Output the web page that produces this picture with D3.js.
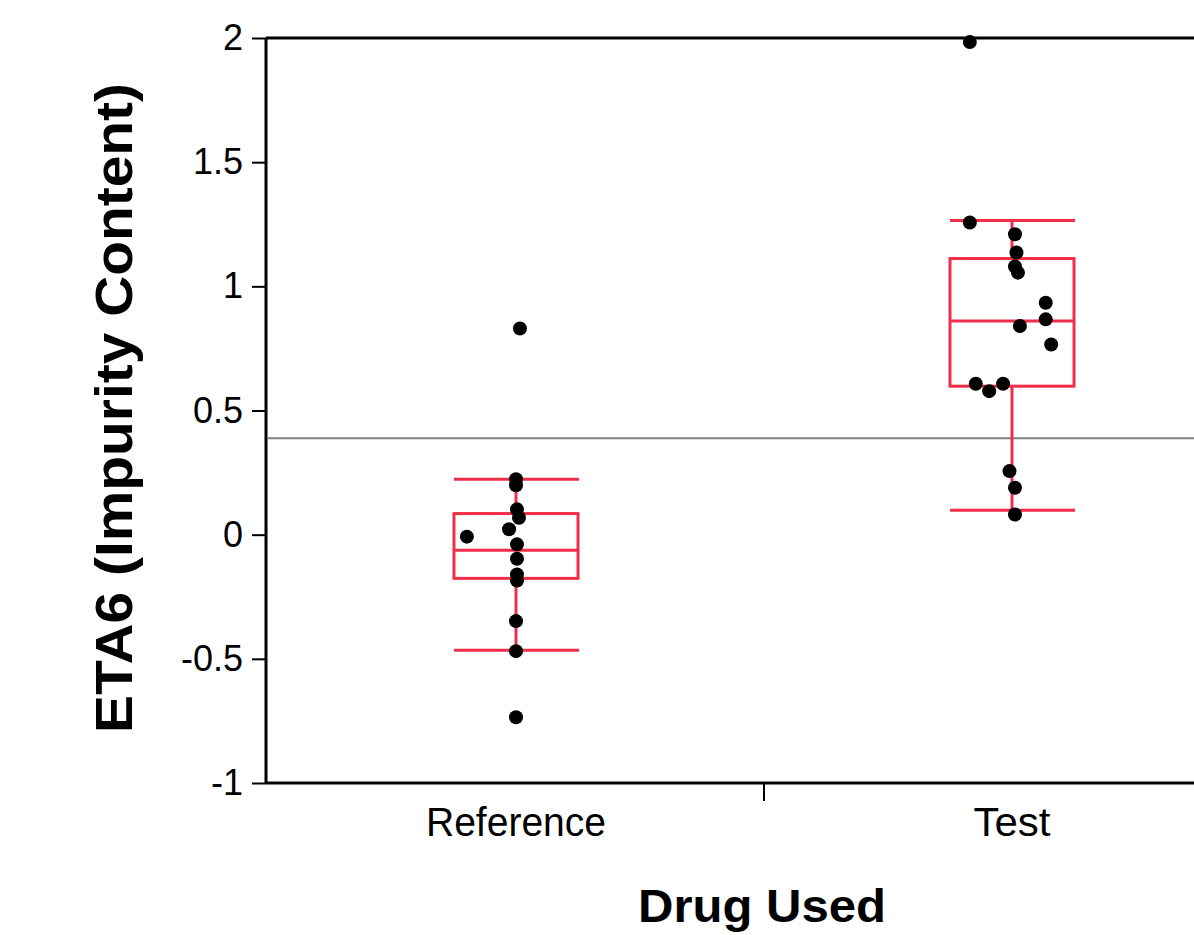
<!DOCTYPE html>
<html>
<head>
<meta charset="utf-8">
<script src="https://cdn.jsdelivr.net/npm/d3@7"></script>
<style>
  body { margin: 0; background: #fff; }
  svg { display: block; }
</style>
</head>
<body>
<svg width="1194" height="935"></svg>
<script>
// groups on the x axis
var groups = ["Reference", "Test"];

// box summaries, one entry per group
var boxQ1 = [-0.176, 0.598];
var boxMedian = [-0.063, 0.860];
var boxQ3 = [0.085, 1.112];
var whiskerLow = [-0.465, 0.098];
var whiskerHigh = [0.223, 1.265];

// grand mean line
var grandMean = 0.388;

// observations (jitter is the horizontal offset, as a share of the band)
var refValues = [0.830, 0.223, 0.199, 0.102, 0.068, 0.022, -0.008, -0.039, -0.097, -0.160, -0.185, -0.348, -0.469, -0.735];
var refJitter = [0.008, 0, 0, 0.002, 0.006, -0.014, -0.099, 0.002, 0.002, 0.002, 0.002, 0, 0, 0];
var testValues = [1.984, 1.257, 1.210, 1.136, 1.080, 1.055, 0.934, 0.867, 0.840, 0.766, 0.608, 0.578, 0.608, 0.256, 0.189, 0.081];
var testJitter = [-0.085, -0.085, 0.006, 0.009, 0.006, 0.012, 0.068, 0.068, 0.016, 0.079, -0.073, -0.046, -0.018, -0.005, 0.006, 0.006];

var yTicks = [-1, -0.5, 0, 0.5, 1, 1.5, 2];

var svg = d3.select("svg");
var red = "#f02e4a";

var y = d3.scaleLinear().domain([-1, 2]).range([783, 38]);
var x = d3.scaleBand().domain(groups).range([268, 1260]);
var bw = x.bandwidth();
var cx = function (g) { return x(g) + bw / 2; };

// frame: top line and bottom axis
svg.append("line").attr("x1", 266).attr("x2", 1194).attr("y1", y(2)).attr("y2", y(2))
  .attr("stroke", "#000").attr("stroke-width", 3);
svg.append("line").attr("x1", 266).attr("x2", 1194).attr("y1", y(-1)).attr("y2", y(-1))
  .attr("stroke", "#000").attr("stroke-width", 3);

// middle tick between the two groups
svg.append("line").attr("x1", x("Test")).attr("x2", x("Test"))
  .attr("y1", y(-1)).attr("y2", y(-1) + 18)
  .attr("stroke", "#000").attr("stroke-width", 2);

// y axis
var yAxis = d3.axisLeft(y).tickValues(yTicks).tickSize(14).tickPadding(9)
  .tickFormat(function (d) { return String(d); });
var ya = svg.append("g").attr("transform", "translate(266,0)").call(yAxis);
ya.select(".domain").attr("stroke-width", 3).attr("d", "M0," + y(2) + "V" + y(-1));
ya.selectAll(".tick line").attr("stroke-width", 2);
ya.selectAll(".tick text").attr("font-family", "Liberation Sans, Arial, sans-serif")
  .attr("font-size", 36).attr("fill", "#000");

// grand mean
svg.append("line").attr("x1", 267).attr("x2", 1194)
  .attr("y1", y(grandMean)).attr("y2", y(grandMean))
  .attr("stroke", "#808080").attr("stroke-width", 2);

// boxes
var boxData = groups.map(function (g, i) {
  return { g: g, q1: boxQ1[i], med: boxMedian[i], q3: boxQ3[i], lo: whiskerLow[i], hi: whiskerHigh[i] };
});
var half = bw * 0.125;
var bx = svg.selectAll(".box").data(boxData).enter().append("g").attr("class", "box")
  .attr("stroke", red).attr("stroke-width", 3).attr("fill", "none");
bx.append("line").attr("x1", function (d) { return cx(d.g); }).attr("x2", function (d) { return cx(d.g); })
  .attr("y1", function (d) { return y(d.hi); }).attr("y2", function (d) { return y(d.q3); });
bx.append("line").attr("x1", function (d) { return cx(d.g); }).attr("x2", function (d) { return cx(d.g); })
  .attr("y1", function (d) { return y(d.q1); }).attr("y2", function (d) { return y(d.lo); });
bx.append("rect").attr("x", function (d) { return cx(d.g) - half; }).attr("width", half * 2)
  .attr("y", function (d) { return y(d.q3); }).attr("height", function (d) { return y(d.q1) - y(d.q3); });
["med", "hi", "lo"].forEach(function (k) {
  bx.append("line").attr("x1", function (d) { return cx(d.g) - half; })
    .attr("x2", function (d) { return cx(d.g) + half + (k === "med" ? 0 : 1); })
    .attr("y1", function (d) { return y(d[k]); }).attr("y2", function (d) { return y(d[k]); });
});

// points
var pts = [];
refValues.forEach(function (v, i) { pts.push({ g: "Reference", v: v, j: refJitter[i] }); });
testValues.forEach(function (v, i) { pts.push({ g: "Test", v: v, j: testJitter[i] }); });
svg.selectAll(".pt").data(pts).enter().append("circle").attr("class", "pt")
  .attr("cx", function (d) { return cx(d.g) + d.j * bw; })
  .attr("cy", function (d) { return y(d.v); })
  .attr("r", 7).attr("fill", "#000");

// category labels
var catWidth = { Reference: 180, Test: 77 };
svg.selectAll(".cat").data(groups).enter().append("text").attr("class", "cat")
  .attr("x", function (d) { return cx(d); }).attr("y", 836)
  .attr("text-anchor", "middle").attr("font-family", "Liberation Sans, Arial, sans-serif")
  .attr("font-size", 40).attr("textLength", function (d) { return catWidth[d]; })
  .attr("lengthAdjust", "spacingAndGlyphs").text(function (d) { return d; });

// axis titles
svg.append("text").attr("transform", "translate(132,408) rotate(-90)")
  .attr("text-anchor", "middle").attr("font-family", "Liberation Sans, Arial, sans-serif")
  .attr("font-weight", "bold").attr("font-size", 51)
  .attr("textLength", 650).attr("lengthAdjust", "spacingAndGlyphs")
  .text("ETA6 (Impurity Content)");
svg.append("text").attr("x", 762).attr("y", 922)
  .attr("text-anchor", "middle").attr("font-family", "Liberation Sans, Arial, sans-serif")
  .attr("font-weight", "bold").attr("font-size", 46)
  .attr("textLength", 248).attr("lengthAdjust", "spacingAndGlyphs")
  .text("Drug Used");
</script>
</body>
</html>
